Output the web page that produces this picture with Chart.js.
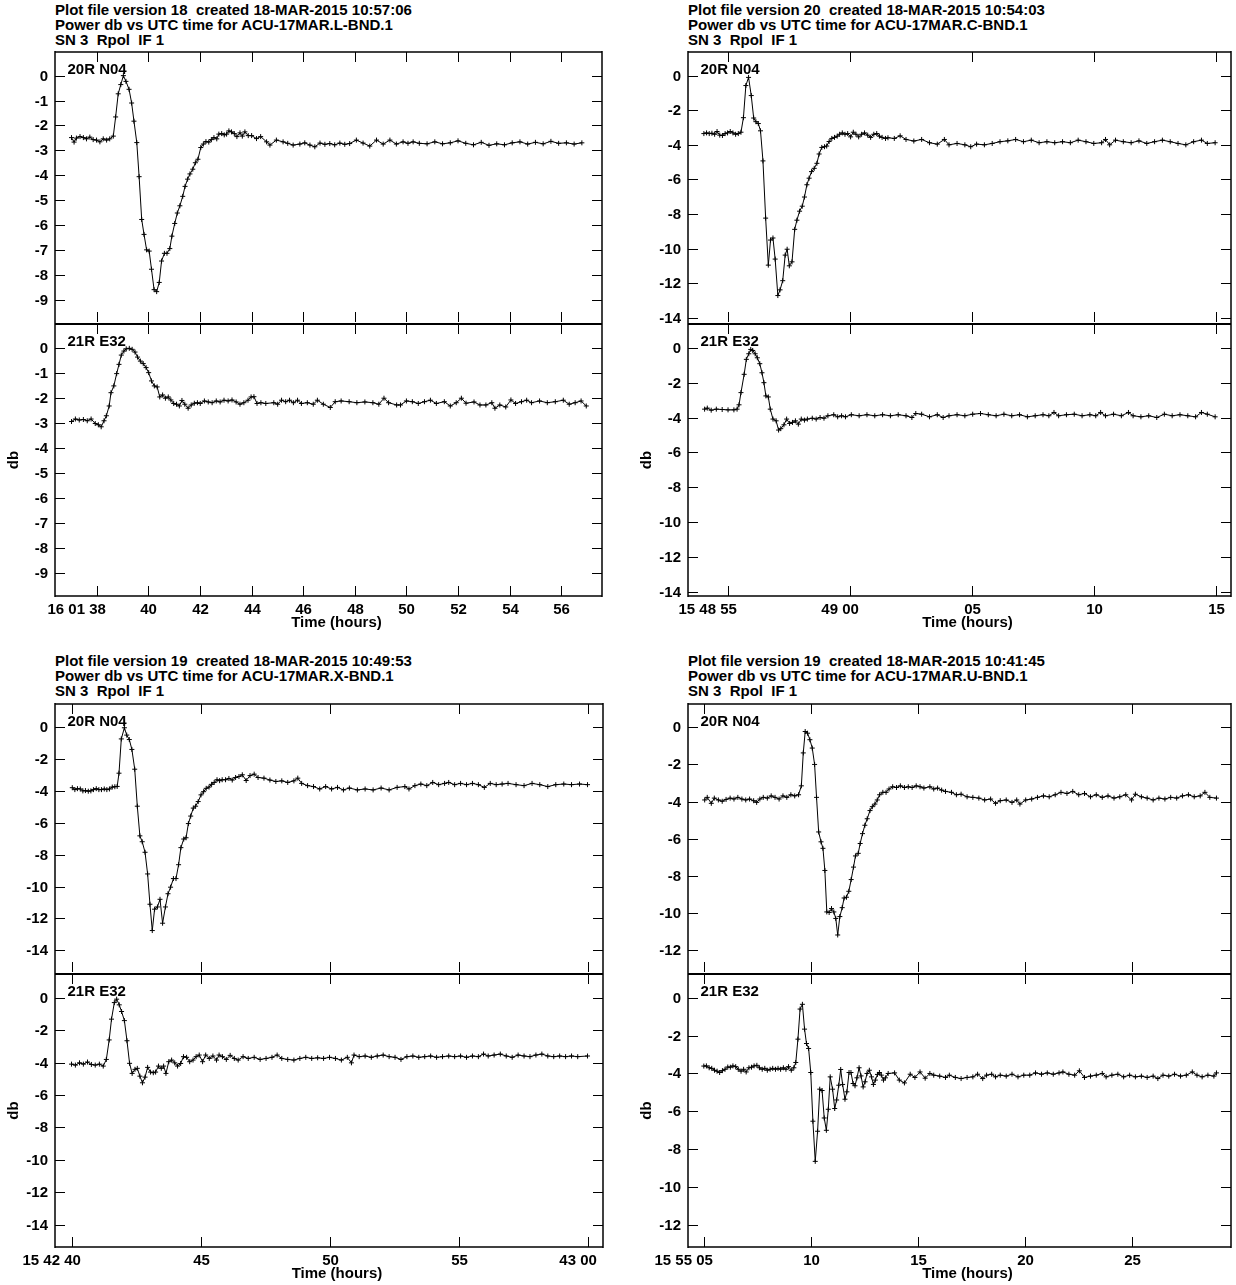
<!DOCTYPE html>
<html>
<head>
<meta charset="utf-8">
<script src="https://cdn.jsdelivr.net/npm/chart.js@4.4.1/dist/chart.umd.min.js"></script>
<style>
  body { margin: 0; background: #fff; width: 1236px; height: 1285px; position: relative; overflow: hidden; }
  .title { position: absolute; font: bold 15px "Liberation Sans", Arial, sans-serif; line-height: 14.75px; white-space: pre; color: #000; }
  canvas { position: absolute; }
</style>
</head>
<body>
<script>
// ---- data: [seconds past the minute, power db] ----

// L band, 16:01
const L_XTICKS = [38, 40, 42, 44, 46, 48, 50, 52, 54, 56];
const L_XLABELS = ['16 01 38', '40', '42', '44', '46', '48', '50', '52', '54', '56'];
const L_YTICKS = [0, -1, -2, -3, -4, -5, -6, -7, -8, -9];
const L_TITLE = ['Plot file version 18  created 18-MAR-2015 10:57:06', 'Power db vs UTC time for ACU-17MAR.L-BND.1', 'SN 3  Rpol  IF 1'];
const L_N04 = [[37.02,-2.49],[37.12,-2.67],[37.21,-2.51],[37.35,-2.45],[37.48,-2.49],[37.60,-2.54],[37.73,-2.47],[37.86,-2.57],[37.99,-2.59],[38.12,-2.66],[38.25,-2.54],[38.38,-2.59],[38.50,-2.54],[38.64,-2.43],[38.73,-1.66],[38.83,-0.73],[38.93,-0.36],[39.03,0.0],[39.13,-0.23],[39.25,-0.55],[39.35,-1.10],[39.44,-1.83],[39.55,-2.69],[39.64,-4.06],[39.74,-5.78],[39.83,-6.38],[39.93,-7.00],[40.03,-7.05],[40.12,-7.78],[40.22,-8.60],[40.32,-8.68],[40.42,-8.31],[40.51,-7.45],[40.62,-7.14],[40.72,-7.14],[40.83,-6.95],[40.91,-6.45],[41.02,-5.94],[41.12,-5.52],[41.22,-5.23],[41.33,-4.85],[41.42,-4.45],[41.52,-4.16],[41.61,-3.95],[41.72,-3.76],[41.82,-3.50],[41.92,-3.36],[42.03,-2.89],[42.13,-2.75],[42.23,-2.65],[42.34,-2.67],[42.44,-2.57],[42.54,-2.49],[42.65,-2.54],[42.73,-2.35],[42.84,-2.33],[42.94,-2.38],[43.03,-2.35],[43.12,-2.22],[43.22,-2.26],[43.33,-2.33],[43.43,-2.45],[43.55,-2.30],[43.64,-2.43],[43.74,-2.26],[43.87,-2.41],[44.00,-2.41],[44.19,-2.53],[44.35,-2.45],[44.58,-2.66],[44.71,-2.79],[44.96,-2.59],[45.22,-2.66],[45.40,-2.72],[45.61,-2.79],[45.87,-2.75],[46.06,-2.70],[46.26,-2.79],[46.45,-2.86],[46.65,-2.71],[46.84,-2.76],[47.03,-2.73],[47.22,-2.78],[47.42,-2.71],[47.61,-2.76],[47.80,-2.73],[48.06,-2.59],[48.32,-2.71],[48.58,-2.83],[48.84,-2.59],[49.10,-2.75],[49.36,-2.59],[49.61,-2.75],[49.87,-2.66],[50.06,-2.72],[50.26,-2.66],[50.50,-2.72],[50.80,-2.74],[51.10,-2.66],[51.40,-2.74],[51.70,-2.70],[52.00,-2.62],[52.30,-2.72],[52.60,-2.78],[52.90,-2.68],[53.20,-2.80],[53.50,-2.74],[53.80,-2.78],[54.10,-2.70],[54.40,-2.66],[54.70,-2.75],[55.00,-2.68],[55.30,-2.74],[55.60,-2.64],[55.90,-2.72],[56.20,-2.70],[56.50,-2.75],[56.80,-2.70]];
const L_E32 = [[37.02,-2.94],[37.17,-2.84],[37.32,-2.88],[37.48,-2.86],[37.63,-2.91],[37.78,-2.84],[37.94,-3.02],[38.06,-3.07],[38.17,-3.15],[38.28,-2.91],[38.37,-2.71],[38.48,-2.32],[38.55,-1.79],[38.66,-1.52],[38.77,-1.03],[38.86,-0.66],[38.95,-0.29],[39.05,-0.13],[39.14,-0.04],[39.26,-0.02],[39.37,-0.06],[39.48,-0.17],[39.58,-0.37],[39.69,-0.53],[39.80,-0.63],[39.91,-0.79],[40.01,-0.99],[40.12,-1.32],[40.23,-1.52],[40.34,-1.56],[40.44,-1.96],[40.55,-1.88],[40.66,-2.01],[40.77,-1.96],[40.87,-2.08],[40.98,-2.22],[41.09,-2.25],[41.20,-2.32],[41.30,-2.10],[41.41,-2.25],[41.54,-2.41],[41.66,-2.28],[41.78,-2.21],[41.90,-2.19],[42.01,-2.22],[42.17,-2.12],[42.32,-2.16],[42.47,-2.19],[42.63,-2.12],[42.78,-2.16],[42.93,-2.09],[43.09,-2.12],[43.24,-2.08],[43.40,-2.16],[43.55,-2.25],[43.70,-2.19],[43.86,-2.09],[43.98,-1.96],[44.09,-1.95],[44.21,-2.22],[44.36,-2.19],[44.55,-2.22],[44.86,-2.19],[45.01,-2.25],[45.16,-2.09],[45.32,-2.15],[45.47,-2.09],[45.62,-2.19],[45.78,-2.09],[45.93,-2.22],[46.16,-2.19],[46.39,-2.25],[46.55,-2.09],[46.78,-2.25],[47.05,-2.38],[47.24,-2.15],[47.47,-2.12],[47.78,-2.15],[48.08,-2.19],[48.39,-2.16],[48.70,-2.19],[48.93,-2.25],[49.13,-2.01],[49.31,-2.19],[49.62,-2.28],[49.77,-2.28],[50.00,-2.12],[50.23,-2.15],[50.46,-2.22],[50.70,-2.15],[50.93,-2.09],[51.16,-2.22],[51.47,-2.15],[51.70,-2.32],[51.93,-2.19],[52.13,-2.01],[52.31,-2.21],[52.62,-2.16],[52.85,-2.28],[53.08,-2.28],[53.31,-2.19],[53.43,-2.41],[53.62,-2.28],[53.85,-2.36],[54.05,-2.08],[54.23,-2.22],[54.46,-2.15],[54.66,-2.09],[54.85,-2.19],[55.16,-2.12],[55.46,-2.19],[55.77,-2.15],[56.08,-2.09],[56.31,-2.25],[56.54,-2.19],[56.77,-2.12],[56.97,-2.32]];

// C band, 15:48
const C_XTICKS = [55, 60, 65, 70, 75];
const C_XLABELS = ['15 48 55', '49 00', '05', '10', '15'];
const C_YTICKS = [0, -2, -4, -6, -8, -10, -12, -14];
const C_TITLE = ['Plot file version 20  created 18-MAR-2015 10:54:03', 'Power db vs UTC time for ACU-17MAR.C-BND.1', 'SN 3  Rpol  IF 1'];
const C_N04 = [[54.01,-3.35],[54.12,-3.31],[54.23,-3.35],[54.34,-3.33],[54.45,-3.39],[54.55,-3.23],[54.66,-3.44],[54.77,-3.46],[54.88,-3.35],[54.98,-3.31],[55.09,-3.23],[55.20,-3.31],[55.31,-3.39],[55.42,-3.35],[55.53,-3.27],[55.63,-2.43],[55.73,-0.57],[55.84,-0.10],[55.95,-1.15],[56.05,-2.45],[56.14,-2.66],[56.24,-2.77],[56.33,-3.19],[56.43,-4.93],[56.54,-8.24],[56.65,-10.96],[56.74,-9.51],[56.84,-9.39],[56.93,-10.61],[57.04,-12.72],[57.13,-12.39],[57.24,-11.86],[57.34,-10.38],[57.42,-10.04],[57.51,-11.00],[57.62,-10.77],[57.73,-8.89],[57.82,-8.36],[57.93,-7.84],[58.04,-7.55],[58.13,-7.02],[58.23,-6.31],[58.32,-5.93],[58.42,-5.55],[58.53,-5.36],[58.64,-5.07],[58.73,-4.53],[58.84,-4.15],[58.95,-4.11],[59.04,-4.07],[59.14,-3.81],[59.25,-3.63],[59.36,-3.57],[59.47,-3.50],[59.57,-3.39],[59.68,-3.31],[59.79,-3.39],[59.90,-3.35],[60.02,-3.54],[60.13,-3.27],[60.24,-3.39],[60.35,-3.54],[60.47,-3.39],[60.59,-3.31],[60.72,-3.44],[60.84,-3.57],[60.97,-3.39],[61.09,-3.35],[61.20,-3.50],[61.31,-3.57],[61.45,-3.63],[61.55,-3.59],[61.81,-3.63],[62.05,-3.48],[62.29,-3.69],[62.61,-3.78],[62.93,-3.69],[63.25,-3.88],[63.57,-3.96],[63.86,-3.69],[64.05,-4.00],[64.38,-3.92],[64.70,-4.00],[64.94,-4.11],[65.18,-3.96],[65.50,-4.00],[65.82,-3.92],[66.14,-3.82],[66.46,-3.77],[66.78,-3.69],[67.10,-3.82],[67.42,-3.73],[67.74,-3.88],[68.06,-3.82],[68.38,-3.88],[68.70,-3.82],[69.02,-3.88],[69.34,-3.73],[69.66,-3.82],[69.98,-3.92],[70.30,-3.88],[70.46,-3.69],[70.63,-4.00],[70.87,-3.73],[71.19,-3.82],[71.51,-3.88],[71.83,-3.77],[72.15,-3.92],[72.47,-3.82],[72.79,-3.73],[73.11,-3.82],[73.43,-3.92],[73.75,-4.00],[74.07,-3.82],[74.39,-3.73],[74.63,-3.92],[74.95,-3.88]];
const C_E32 = [[54.04,-3.52],[54.15,-3.46],[54.31,-3.58],[54.52,-3.52],[54.76,-3.54],[55.00,-3.56],[55.24,-3.56],[55.37,-3.52],[55.45,-3.27],[55.53,-2.57],[55.66,-1.52],[55.75,-0.66],[55.85,-0.34],[55.93,-0.09],[56.01,-0.15],[56.11,-0.34],[56.20,-0.57],[56.30,-0.91],[56.39,-1.43],[56.47,-2.00],[56.55,-2.76],[56.65,-2.82],[56.73,-3.52],[56.84,-4.09],[56.97,-4.19],[57.07,-4.72],[57.16,-4.64],[57.29,-4.42],[57.40,-4.09],[57.52,-4.34],[57.64,-4.28],[57.76,-4.19],[57.88,-4.38],[58.00,-4.09],[58.13,-4.15],[58.25,-4.09],[58.45,-4.04],[58.61,-4.09],[58.77,-4.00],[58.93,-4.04],[59.09,-3.90],[59.33,-3.84],[59.49,-3.96],[59.65,-3.90],[59.81,-3.96],[60.05,-3.84],[60.37,-3.90],[60.69,-3.84],[61.01,-3.90],[61.33,-3.84],[61.65,-3.90],[61.97,-3.84],[62.29,-3.90],[62.53,-4.00],[62.69,-3.77],[62.93,-3.81],[63.25,-3.96],[63.57,-3.84],[63.81,-4.00],[64.05,-3.90],[64.38,-3.84],[64.70,-3.90],[65.02,-3.81],[65.34,-3.77],[65.66,-3.84],[65.98,-3.90],[66.30,-3.81],[66.62,-3.90],[66.94,-3.84],[67.26,-3.96],[67.58,-3.90],[67.90,-3.84],[68.14,-3.90],[68.35,-3.71],[68.54,-3.90],[68.86,-3.84],[69.18,-3.81],[69.50,-3.90],[69.82,-3.84],[70.06,-3.90],[70.26,-3.71],[70.46,-3.90],[70.79,-3.81],[71.11,-3.90],[71.40,-3.71],[71.59,-3.90],[71.91,-3.96],[72.23,-3.90],[72.56,-4.00],[72.87,-3.81],[73.19,-3.90],[73.51,-3.84],[73.83,-3.90],[74.15,-3.96],[74.39,-3.71],[74.63,-3.81],[74.95,-3.96]];

// X band, 15:42
const X_XTICKS = [40, 45, 50, 55, 60];
const X_XLABELS = ['15 42 40', '45', '50', '55', '43 00'];
const X_YTICKS = [0, -2, -4, -6, -8, -10, -12, -14];
const X_TITLE = ['Plot file version 19  created 18-MAR-2015 10:49:53', 'Power db vs UTC time for ACU-17MAR.X-BND.1', 'SN 3  Rpol  IF 1'];
const X_N04 = [[40.03,-3.80],[40.13,-3.92],[40.23,-3.86],[40.34,-3.88],[40.44,-4.00],[40.54,-3.98],[40.65,-4.02],[40.75,-4.00],[40.85,-3.92],[40.96,-3.86],[41.06,-3.92],[41.16,-3.92],[41.27,-3.88],[41.37,-3.92],[41.47,-3.88],[41.58,-3.76],[41.68,-3.74],[41.77,-3.72],[41.84,-2.89],[41.93,-0.74],[42.05,-0.04],[42.14,-0.50],[42.24,-0.78],[42.34,-1.40],[42.45,-2.64],[42.55,-4.96],[42.65,-6.82],[42.74,-7.19],[42.85,-7.85],[42.95,-9.21],[43.04,-11.11],[43.13,-12.76],[43.22,-11.42],[43.33,-11.28],[43.43,-10.80],[43.53,-12.30],[43.64,-11.28],[43.74,-10.45],[43.84,-10.04],[43.95,-9.50],[44.05,-9.50],[44.15,-8.63],[44.24,-7.56],[44.35,-7.02],[44.44,-6.94],[44.53,-6.05],[44.62,-5.58],[44.72,-5.08],[44.81,-4.96],[44.91,-4.67],[45.02,-4.25],[45.12,-4.05],[45.22,-3.84],[45.33,-3.76],[45.43,-3.59],[45.53,-3.47],[45.64,-3.30],[45.74,-3.36],[45.84,-3.30],[45.97,-3.30],[46.10,-3.22],[46.23,-3.32],[46.36,-3.16],[46.49,-3.10],[46.62,-2.99],[46.77,-3.35],[46.92,-3.04],[47.08,-2.95],[47.23,-3.16],[47.46,-3.20],[47.69,-3.32],[47.92,-3.41],[48.15,-3.37],[48.38,-3.47],[48.62,-3.37],[48.77,-3.20],[48.92,-3.53],[49.15,-3.67],[49.38,-3.73],[49.62,-3.88],[49.85,-3.73],[50.08,-3.88],[50.31,-3.78],[50.54,-3.94],[50.77,-3.82],[51.08,-3.94],[51.38,-3.88],[51.69,-3.94],[52.00,-3.82],[52.31,-3.94],[52.62,-3.78],[52.92,-3.73],[53.08,-3.88],[53.31,-3.67],[53.54,-3.57],[53.77,-3.67],[54.00,-3.47],[54.23,-3.61],[54.46,-3.53],[54.62,-3.47],[54.85,-3.61],[55.08,-3.53],[55.31,-3.61],[55.54,-3.53],[55.77,-3.61],[56.00,-3.78],[56.23,-3.53],[56.46,-3.61],[56.69,-3.57],[56.92,-3.53],[57.23,-3.61],[57.54,-3.67],[57.85,-3.53],[58.15,-3.61],[58.46,-3.73],[58.77,-3.61],[59.08,-3.57],[59.38,-3.61],[59.69,-3.57],[60.00,-3.61]];
const X_E32 = [[40.00,-4.10],[40.15,-4.16],[40.31,-4.02],[40.46,-4.10],[40.62,-3.97],[40.77,-4.12],[40.92,-4.16],[41.08,-4.10],[41.23,-4.22],[41.35,-3.81],[41.46,-2.61],[41.55,-1.33],[41.66,-0.31],[41.75,-0.10],[41.85,-0.45],[41.94,-0.86],[42.05,-1.42],[42.15,-2.66],[42.25,-4.05],[42.35,-4.67],[42.46,-4.42],[42.55,-4.36],[42.65,-4.84],[42.75,-5.25],[42.85,-4.90],[42.95,-4.30],[43.06,-4.59],[43.17,-4.63],[43.26,-4.59],[43.37,-4.22],[43.48,-4.36],[43.57,-4.22],[43.66,-4.67],[43.77,-3.95],[43.88,-3.85],[44.00,-4.02],[44.11,-4.22],[44.23,-4.06],[44.34,-3.64],[44.46,-3.68],[44.58,-3.95],[44.71,-3.85],[44.83,-3.64],[44.95,-3.54],[45.08,-3.95],[45.20,-3.54],[45.34,-3.75],[45.48,-3.60],[45.62,-3.85],[45.72,-3.54],[45.85,-3.64],[46.00,-3.81],[46.15,-3.56],[46.31,-3.75],[46.46,-3.85],[46.65,-3.64],[46.85,-3.75],[47.08,-3.68],[47.31,-3.81],[47.54,-3.75],[47.77,-3.68],[47.97,-3.54],[48.15,-3.75],[48.38,-3.81],[48.62,-3.85],[48.85,-3.75],[49.08,-3.68],[49.31,-3.75],[49.54,-3.71],[49.77,-3.75],[50.00,-3.68],[50.23,-3.75],[50.46,-3.85],[50.69,-3.68],[50.85,-4.02],[50.95,-3.54],[51.15,-3.64],[51.38,-3.60],[51.62,-3.68],[51.85,-3.60],[52.08,-3.54],[52.31,-3.64],[52.54,-3.68],[52.77,-3.81],[53.00,-3.64],[53.23,-3.60],[53.46,-3.68],[53.69,-3.64],[53.92,-3.60],[54.15,-3.68],[54.38,-3.64],[54.62,-3.60],[54.85,-3.64],[55.08,-3.60],[55.31,-3.68],[55.54,-3.60],[55.77,-3.64],[55.97,-3.48],[56.15,-3.60],[56.38,-3.54],[56.62,-3.48],[56.85,-3.60],[57.08,-3.68],[57.31,-3.54],[57.54,-3.60],[57.77,-3.64],[58.00,-3.54],[58.23,-3.48],[58.46,-3.60],[58.69,-3.64],[58.92,-3.60],[59.15,-3.64],[59.38,-3.60],[59.62,-3.64],[60.00,-3.60]];

// U band, 15:55
const U_XTICKS = [5, 10, 15, 20, 25];
const U_XLABELS = ['15 55 05', '10', '15', '20', '25'];
const U_YTICKS = [0, -2, -4, -6, -8, -10, -12];
const U_TITLE = ['Plot file version 19  created 18-MAR-2015 10:41:45', 'Power db vs UTC time for ACU-17MAR.U-BND.1', 'SN 3  Rpol  IF 1'];
const U_N04 = [[5.04,-3.91],[5.16,-3.77],[5.35,-4.09],[5.49,-3.81],[5.68,-3.91],[5.86,-3.98],[6.04,-3.88],[6.23,-3.81],[6.41,-3.86],[6.59,-3.77],[6.78,-3.86],[6.96,-3.91],[7.14,-3.86],[7.33,-3.95],[7.47,-4.04],[7.62,-3.86],[7.78,-3.77],[7.97,-3.81],[8.15,-3.69],[8.33,-3.77],[8.52,-3.86],[8.70,-3.69],[8.88,-3.77],[9.07,-3.63],[9.25,-3.69],[9.43,-3.63],[9.56,-3.15],[9.65,-1.38],[9.74,-0.23],[9.85,-0.32],[9.96,-0.67],[10.07,-1.12],[10.18,-2.00],[10.27,-3.77],[10.37,-5.63],[10.48,-6.16],[10.57,-6.51],[10.66,-7.70],[10.75,-9.93],[10.86,-9.96],[10.97,-9.75],[11.08,-9.93],[11.17,-10.28],[11.26,-11.17],[11.36,-10.18],[11.47,-9.70],[11.56,-9.18],[11.67,-9.14],[11.78,-8.82],[11.89,-8.19],[12.00,-7.52],[12.09,-6.92],[12.22,-6.78],[12.31,-6.25],[12.42,-5.72],[12.53,-5.27],[12.64,-4.92],[12.77,-4.48],[12.88,-4.27],[13.00,-4.13],[13.11,-3.91],[13.22,-3.63],[13.37,-3.50],[13.52,-3.50],[13.66,-3.32],[13.83,-3.20],[14.01,-3.24],[14.19,-3.15],[14.38,-3.24],[14.56,-3.20],[14.74,-3.24],[14.93,-3.15],[15.11,-3.20],[15.29,-3.27],[15.57,-3.20],[15.75,-3.32],[15.93,-3.27],[16.12,-3.38],[16.30,-3.45],[16.58,-3.50],[16.81,-3.63],[17.03,-3.60],[17.31,-3.74],[17.58,-3.77],[17.86,-3.81],[18.13,-3.91],[18.41,-3.86],[18.64,-4.09],[18.86,-3.95],[19.14,-3.91],[19.41,-4.04],[19.63,-3.91],[19.78,-4.13],[20.05,-3.91],[20.33,-3.86],[20.60,-3.77],[20.88,-3.69],[21.15,-3.74],[21.43,-3.63],[21.70,-3.50],[21.98,-3.56],[22.25,-3.45],[22.53,-3.63],[22.80,-3.56],[23.08,-3.74],[23.35,-3.63],[23.63,-3.77],[23.90,-3.69],[24.18,-3.81],[24.45,-3.74],[24.73,-3.63],[25.00,-3.91],[25.18,-3.60],[25.46,-3.74],[25.73,-3.81],[26.01,-3.91],[26.28,-3.81],[26.56,-3.86],[26.83,-3.77],[27.11,-3.81],[27.38,-3.69],[27.66,-3.63],[27.93,-3.74],[28.21,-3.69],[28.43,-3.50],[28.66,-3.77],[28.97,-3.81]];
const U_E32 = [[5.00,-3.61],[5.12,-3.60],[5.25,-3.70],[5.37,-3.73],[5.50,-3.83],[5.62,-3.88],[5.74,-3.95],[5.87,-3.85],[5.99,-3.78],[6.12,-3.66],[6.24,-3.67],[6.36,-3.60],[6.49,-3.64],[6.61,-3.78],[6.74,-3.88],[6.86,-3.78],[6.98,-3.92],[7.11,-3.70],[7.23,-3.67],[7.35,-3.60],[7.48,-3.57],[7.60,-3.70],[7.73,-3.78],[7.85,-3.73],[7.97,-3.83],[8.10,-3.78],[8.22,-3.73],[8.35,-3.78],[8.47,-3.73],[8.59,-3.78],[8.72,-3.70],[8.84,-3.78],[8.96,-3.64],[9.09,-3.83],[9.21,-3.70],[9.30,-3.42],[9.40,-2.19],[9.50,-0.60],[9.61,-0.35],[9.71,-1.66],[9.80,-2.42],[9.90,-2.68],[10.00,-3.95],[10.10,-6.52],[10.21,-8.64],[10.32,-7.05],[10.42,-4.83],[10.53,-4.90],[10.63,-6.35],[10.73,-7.00],[10.82,-5.89],[10.91,-4.18],[11.02,-4.83],[11.12,-5.85],[11.21,-5.40],[11.31,-4.62],[11.40,-3.79],[11.49,-4.58],[11.60,-5.36],[11.69,-4.97],[11.79,-3.95],[11.88,-3.95],[11.98,-4.53],[12.07,-4.65],[12.16,-4.23],[12.26,-3.70],[12.35,-4.13],[12.45,-4.71],[12.54,-4.44],[12.63,-4.00],[12.74,-3.83],[12.84,-4.18],[12.93,-4.58],[13.02,-4.35],[13.12,-4.05],[13.21,-3.95],[13.30,-4.09],[13.40,-4.35],[13.49,-4.23],[13.62,-4.00],[13.92,-3.97],[14.14,-4.35],[14.38,-4.50],[14.65,-4.04],[14.87,-4.21],[15.11,-3.92],[15.35,-4.25],[15.57,-4.00],[15.75,-4.09],[16.03,-4.14],[16.30,-4.21],[16.48,-4.09],[16.76,-4.21],[17.03,-4.27],[17.31,-4.21],[17.58,-4.18],[17.80,-4.04],[18.04,-4.27],[18.22,-4.09],[18.46,-4.04],[18.64,-4.18],[18.86,-4.09],[19.14,-4.14],[19.41,-4.04],[19.69,-4.18],[19.96,-4.09],[20.24,-4.09],[20.51,-3.97],[20.79,-4.04],[21.06,-3.97],[21.34,-4.04],[21.61,-3.97],[21.79,-3.92],[22.07,-4.04],[22.34,-4.09],[22.56,-3.86],[22.80,-4.21],[23.08,-4.14],[23.35,-4.09],[23.63,-4.00],[23.81,-4.18],[24.08,-4.09],[24.36,-4.04],[24.63,-4.18],[24.91,-4.09],[25.18,-4.18],[25.46,-4.14],[25.73,-4.21],[26.01,-4.14],[26.23,-4.27],[26.47,-4.09],[26.74,-4.14],[27.01,-4.04],[27.29,-4.14],[27.56,-4.09],[27.84,-3.92],[28.06,-4.09],[28.30,-4.18],[28.57,-4.09],[28.85,-4.14],[28.97,-3.97]];

const ANT_TOP = '20R N04';
const ANT_BOT = '21R E32';

// ---- layout of the four plot files ----
const FONT = 'bold 15px "Liberation Sans", Arial, sans-serif';
const panels = [
  { col: 0,   frameL: 55,  frameR: 602,  top: 51,  mid: 323, bottom: 596,  titleTop: 3.3,
    xMin: 36.38, xMax: 57.58, yMin: -9.9,   yMax: 0.95, xTicks: L_XTICKS, xLabels: L_XLABELS, yTicks: L_YTICKS, title: L_TITLE, a: L_N04, b: L_E32 },
  { col: 618, frameL: 688, frameR: 1234, top: 51,  mid: 323, bottom: 596,  titleTop: 3.3,
    xMin: 53.36, xMax: 75.6,  yMin: -14.25, yMax: 1.37, xTicks: C_XTICKS, xLabels: C_XLABELS, yTicks: C_YTICKS, title: C_TITLE, a: C_N04, b: C_E32 },
  { col: 0,   frameL: 55,  frameR: 603,  top: 703, mid: 973, bottom: 1247, titleTop: 654.3,
    xMin: 39.36, xMax: 60.6,  yMin: -15.36, yMax: 1.45, xTicks: X_XTICKS, xLabels: X_XLABELS, yTicks: X_YTICKS, title: X_TITLE, a: X_N04, b: X_E32 },
  { col: 618, frameL: 688, frameR: 1234, top: 703, mid: 973, bottom: 1247, titleTop: 654.3,
    xMin: 4.26,  xMax: 29.65, yMin: -13.16, yMax: 1.25, xTicks: U_XTICKS, xLabels: U_XLABELS, yTicks: U_YTICKS, title: U_TITLE, a: U_N04, b: U_E32 }
];

function seg(ctx, x1, y1, x2, y2) {
  ctx.beginPath();
  ctx.moveTo(x1, y1);
  ctx.lineTo(x2, y2);
  ctx.stroke();
}

// frame, inward ticks and all the labels, AIPS style
function aipsFrame(p, name, isBottom) {
  return {
    id: 'aipsFrame',
    afterDraw(chart) {
      const { ctx, chartArea: a, scales: { x, y } } = chart;
      ctx.save();
      ctx.strokeStyle = '#000';
      ctx.fillStyle = '#000';

      // outer edges; the shared edge between the two plots is drawn once, by the lower plot
      ctx.lineWidth = 1.5;
      seg(ctx, a.left, a.top - 1, a.left, a.bottom + 1);
      seg(ctx, a.right, a.top - 1, a.right, a.bottom + 1);
      if (isBottom) {
        seg(ctx, a.left, a.bottom, a.right, a.bottom);
        ctx.lineWidth = 2;
        seg(ctx, a.left, a.top, a.right, a.top);
      } else {
        seg(ctx, a.left, a.top, a.right, a.top);
      }

      ctx.lineWidth = 1;
      ctx.font = FONT;
      ctx.textAlign = 'right';
      ctx.textBaseline = 'middle';
      p.yTicks.forEach(v => {
        const py = Math.round(y.getPixelForValue(v)) + 0.5;
        seg(ctx, a.left, py, a.left + 10, py);
        seg(ctx, a.right - 10, py, a.right, py);
        ctx.fillText(String(v), a.left - 7, py);
      });
      p.xTicks.forEach((t, i) => {
        const px = Math.round(x.getPixelForValue(t)) + 0.5;
        seg(ctx, px, a.top, px, a.top + 10);
        seg(ctx, px, a.bottom - 10, px, a.bottom);
        if (isBottom) {
          // last field of the label sits centred on the tick
          const lab = p.xLabels[i];
          const last = lab.split(' ').pop();
          ctx.textAlign = 'right';
          ctx.fillText(lab, px + ctx.measureText(last).width / 2, a.bottom + 13.5);
        }
      });

      ctx.textAlign = 'left';
      ctx.textBaseline = 'alphabetic';
      ctx.fillText(name, a.left + 12.5, a.top + 22);

      if (isBottom) {
        ctx.textAlign = 'center';
        ctx.textBaseline = 'middle';
        ctx.fillText('Time (hours)', (a.left + a.right) / 2 + 8, a.bottom + 27);
        ctx.translate(a.left - 41, (a.top + a.bottom) / 2);
        ctx.rotate(-Math.PI / 2);
        ctx.fillText('db', 0, 0);
      }
      ctx.restore();
    }
  };
}

function addPlot(p, trace, name, top, bot, isBottom) {
  const padTop = 4, padBot = isBottom ? 40 : 4;
  const W = 618, H = (bot - top) + padTop + padBot;
  const cv = document.createElement('canvas');
  cv.width = W; cv.height = H;
  cv.style.width = W + 'px'; cv.style.height = H + 'px';
  cv.style.left = p.col + 'px'; cv.style.top = (top - padTop) + 'px';
  document.body.appendChild(cv);

  new Chart(cv, {
    type: 'line',
    data: {
      datasets: [{
        data: trace.map(d => ({ x: d[0], y: d[1] })),
        borderColor: '#000',
        borderWidth: 1,
        pointStyle: 'cross',
        pointRadius: 2.5,
        pointBorderWidth: 1,
        pointBorderColor: '#000',
        tension: 0,
        fill: false
      }]
    },
    options: {
      responsive: false,
      animation: false,
      events: [],
      layout: { padding: { left: p.frameL - p.col, right: p.col + W - p.frameR, top: padTop, bottom: padBot } },
      plugins: { legend: { display: false }, tooltip: { enabled: false } },
      scales: {
        x: { type: 'linear', min: p.xMin, max: p.xMax, display: false },
        y: { type: 'linear', min: p.yMin, max: p.yMax, display: false }
      }
    },
    plugins: [aipsFrame(p, name, isBottom)]
  });
}

panels.forEach(p => {
  const t = document.createElement('div');
  t.className = 'title';
  t.style.left = p.frameL + 'px';
  t.style.top = p.titleTop + 'px';
  t.textContent = p.title.join('\n');
  document.body.appendChild(t);

  addPlot(p, p.a, ANT_TOP, p.top, p.mid, false);
  addPlot(p, p.b, ANT_BOT, p.mid, p.bottom, true);
});
</script>
</body>
</html>
